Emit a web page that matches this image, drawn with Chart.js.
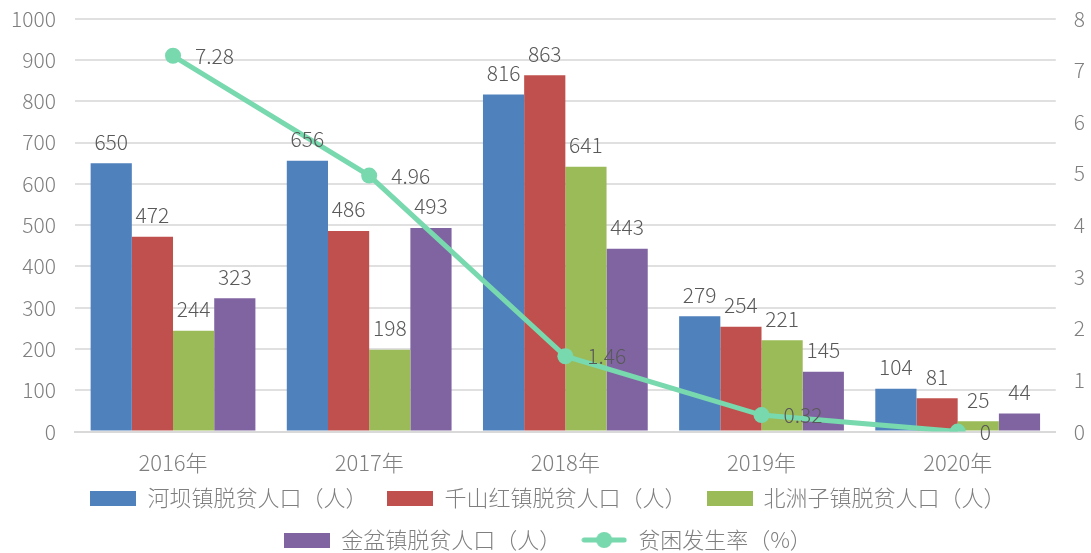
<!DOCTYPE html>
<html>
<head>
<meta charset="utf-8">
<script src="https://cdn.jsdelivr.net/npm/chart.js@4.4.1/dist/chart.umd.min.js"></script>
<style>
  html, body { margin: 0; padding: 0; background: #fff; }
  #wrap { width: 1091px; height: 553px; }
</style>
</head>
<body>
<div id="wrap"><canvas id="chart" width="1091" height="553"></canvas></div>
<script>
const years = ['2016年', '2017年', '2018年', '2019年', '2020年'];
const hebaZhen = [650, 656, 816, 279, 104];
const qianshanhong = [472, 486, 863, 254, 81];
const beizhouzi = [244, 198, 641, 221, 25];
const jinpen = [323, 493, 443, 145, 44];
const povertyRate = [7.28, 4.96, 1.46, 0.32, 0];

const leftTicks = [0, 100, 200, 300, 400, 500, 600, 700, 800, 900, 1000];
const rightTicks = [0, 1, 2, 3, 4, 5, 6, 7, 8];

const FONT = "'Noto Sans CJK SC', 'Noto Sans', sans-serif";
const tickColor = '#7f7f7f';
const labelColor = '#595959';
const lineColor = '#78d8ae';

// legend swatches
function rectSwatch(color) {
  const c = document.createElement('canvas');
  c.width = 46; c.height = 15;
  const g = c.getContext('2d');
  g.fillStyle = color;
  g.fillRect(0, 0, 46, 15);
  return c;
}
function lineSwatch(color) {
  const c = document.createElement('canvas');
  c.width = 46; c.height = 18;
  const g = c.getContext('2d');
  g.strokeStyle = color;
  g.lineWidth = 5;
  g.lineCap = 'round';
  g.beginPath(); g.moveTo(3, 9); g.lineTo(43, 9); g.stroke();
  g.fillStyle = color;
  g.beginPath(); g.arc(23, 9, 8, 0, Math.PI * 2); g.fill();
  return c;
}

// value labels above bars and next to line points
const valueLabels = {
  id: 'valueLabels',
  afterDatasetsDraw(chart) {
    const ctx = chart.ctx;
    ctx.save();
    ctx.font = '300 21px ' + FONT;
    ctx.fillStyle = labelColor;
    chart.data.datasets.forEach((ds, i) => {
      const meta = chart.getDatasetMeta(i);
      meta.data.forEach((el, j) => {
        const v = ds.data[j];
        if (ds.type === 'line') {
          ctx.textAlign = 'left';
          ctx.textBaseline = 'middle';
          ctx.fillText(String(v), el.x + 22, el.y);
        } else {
          ctx.textAlign = 'center';
          ctx.textBaseline = 'bottom';
          ctx.fillText(String(v), el.x, el.y - 11);
        }
      });
    });
    ctx.restore();
  }
};

// legend sits closer to the x labels than chart.js allows
const LEGEND_PULL = 27;
const legendShift = {
  id: 'legendShift',
  afterInit(chart) {
    const lg = chart.legend;
    const fit = lg.fit.bind(lg);
    const draw = lg.draw.bind(lg);
    lg.fit = function () { fit(); this.height -= LEGEND_PULL; };
    lg.draw = function () {
      this.top -= LEGEND_PULL; this.height += LEGEND_PULL;
      draw();
      this.top += LEGEND_PULL; this.height -= LEGEND_PULL;
    };
  }
};

const swatches = [rectSwatch('#4f81bd'), rectSwatch('#c0504d'), rectSwatch('#9bbb59'), rectSwatch('#8064a2'), lineSwatch(lineColor)];

new Chart(document.getElementById('chart'), {
  data: {
    labels: years,
    datasets: [
      { type: 'line', label: '贫困发生率（%）', data: povertyRate, yAxisID: 'y1', borderColor: lineColor, backgroundColor: lineColor, borderWidth: 5, pointRadius: 8, pointHoverRadius: 8, pointBackgroundColor: lineColor, pointBorderWidth: 0, order: 0 },
      { type: 'bar', label: '河坝镇脱贫人口（人）', data: hebaZhen, backgroundColor: '#4f81bd', yAxisID: 'y', order: 1 },
      { type: 'bar', label: '千山红镇脱贫人口（人）', data: qianshanhong, backgroundColor: '#c0504d', yAxisID: 'y', order: 1 },
      { type: 'bar', label: '北洲子镇脱贫人口（人）', data: beizhouzi, backgroundColor: '#9bbb59', yAxisID: 'y', order: 1 },
      { type: 'bar', label: '金盆镇脱贫人口（人）', data: jinpen, backgroundColor: '#8064a2', yAxisID: 'y', order: 1 }
    ]
  },
  options: {
    responsive: false,
    animation: false,
    layout: { padding: { top: 0, left: 5, right: 0, bottom: -8 } },
    datasets: { bar: { barPercentage: 1, categoryPercentage: 0.84 } },
    scales: {
      x: {
        grid: { display: false, drawTicks: false },
        border: { color: '#d9d9d9', width: 2 },
        ticks: { color: tickColor, font: { family: FONT, size: 22, weight: 300 }, padding: 18 }
      },
      y: {
        position: 'left',
        min: 0, max: 1000,
        afterBuildTicks: (axis) => { axis.ticks = leftTicks.map(v => ({ value: v })); },
        grid: { color: '#e0e0e0', lineWidth: 2, drawTicks: true, tickLength: 13, tickColor: 'rgba(0,0,0,0)' },
        border: { display: false },
        ticks: { color: tickColor, font: { family: FONT, size: 21, weight: 300 }, padding: 6, callback: (v) => String(v) }
      },
      y1: {
        position: 'right',
        min: 0, max: 8,
        afterBuildTicks: (axis) => { axis.ticks = rightTicks.map(v => ({ value: v })); },
        grid: { color: 'rgba(0,0,0,0)', drawOnChartArea: false, drawTicks: true, tickLength: 12, tickColor: 'rgba(0,0,0,0)' },
        border: { display: false },
        ticks: { color: tickColor, font: { family: FONT, size: 21, weight: 300 }, padding: 6, callback: (v) => String(v) }
      }
    },
    plugins: {
      tooltip: { enabled: false },
      legend: {
        position: 'bottom',
        labels: {
          color: tickColor,
          font: { family: FONT, size: 22, weight: 300 },
          usePointStyle: true,
          pointStyleWidth: 46,
          padding: 20,
          sort: (a, b) => (a.datasetIndex === 0 ? 1 : 0) - (b.datasetIndex === 0 ? 1 : 0) || a.datasetIndex - b.datasetIndex,
          generateLabels(chart) {
            const items = Chart.defaults.plugins.legend.labels.generateLabels(chart);
            items.forEach(it => {
              const idx = it.datasetIndex === 0 ? 4 : it.datasetIndex - 1;
              it.pointStyle = swatches[idx];
              it.lineWidth = 0;
            });
            return items;
          }
        }
      }
    }
  },
  plugins: [valueLabels, legendShift]
});
</script>
</body>
</html>
